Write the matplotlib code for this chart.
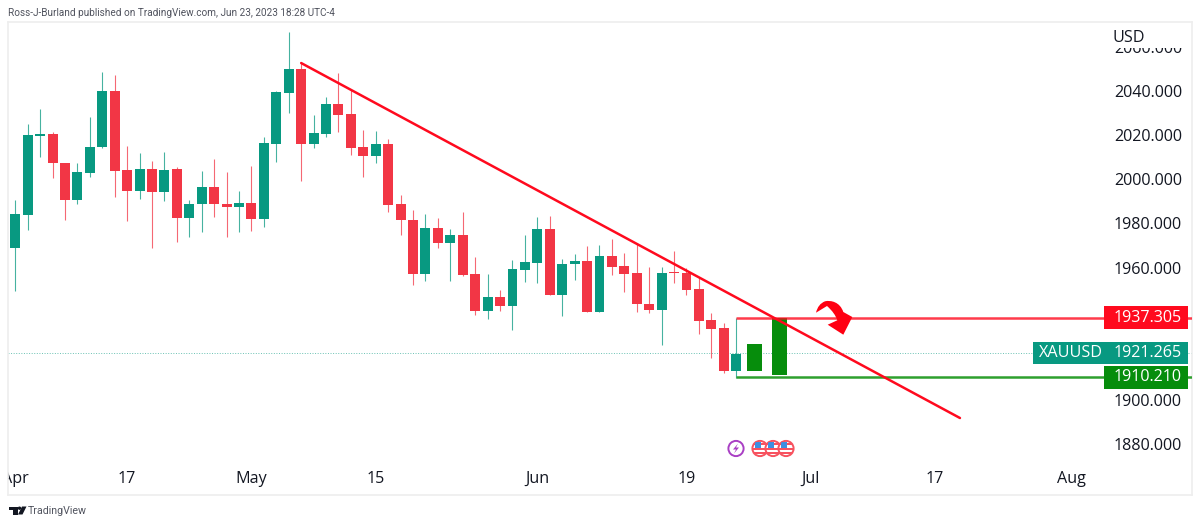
import matplotlib
matplotlib.use("Agg")
from matplotlib import pyplot as plt
from matplotlib.patches import Rectangle, Circle, PathPatch, Polygon
from matplotlib.path import Path
from matplotlib.transforms import Affine2D

plt.rcParams['font.family'] = ['Open Sans', 'DejaVu Sans']

# daily candles (index 0 = Apr 3)
opens = [1968.7, 1983.8, 2019.8, 2020.4, 2007.4, 1990.8, 2003.0, 2014.5, 2040.2, 2004.2,
         1994.5, 2004.7, 1994.2, 2004.5, 1982.3, 1988.6, 1996.6, 1988.8, 1987.4, 1989.1,
         1982.0, 2016.1, 2039.1, 2050.0, 2016.1, 2020.7, 2034.1, 2029.4, 2014.6, 2010.6,
         2016.1, 1988.6, 1981.7, 1957.1, 1977.8, 1971.3, 1974.7, 1957.1, 1940.3, 1946.8,
         1942.7, 1958.9, 1962.2, 1977.5, 1947.4, 1961.4, 1962.9, 1939.7, 1965.2, 1960.7,
         1957.4, 1943.5, 1940.9, 1957.7, 1957.4, 1950.3, 1936.1, 1932.4, 1913.2]
highs = [1990.5, 2024.9, 2031.9, 2021.3, 2007.4, 2007.2, 2028.2, 2048.6, 2047.3, 2015.1,
         2011.8, 2008.3, 2012.2, 2005.6, 1990.6, 2003.6, 2009.2, 2003.3, 1994.8, 2006.0,
         2019.2, 2040.2, 2066.6, 2053.0, 2029.1, 2037.3, 2048.0, 2040.5, 2022.5, 2021.9,
         2018.3, 1992.9, 1985.9, 1984.1, 1982.4, 1977.5, 1985.3, 1964.6, 1957.1, 1949.7,
         1963.4, 1974.7, 1982.9, 1983.2, 1964.0, 1966.0, 1969.9, 1970.2, 1972.9, 1966.6,
         1971.0, 1960.1, 1960.1, 1967.5, 1959.6, 1955.5, 1939.4, 1934.8, 1937.3]
lows = [1949.5, 1977.0, 2009.9, 2000.7, 1981.5, 1988.6, 2000.9, 2014.0, 1992.1, 1981.1,
        1991.1, 1969.0, 1990.3, 1971.6, 1973.8, 1975.9, 1983.1, 1973.8, 1975.9, 1976.7,
        1978.4, 2007.8, 2030.2, 1999.2, 2014.0, 2019.2, 2021.3, 2011.0, 2000.9, 2007.4,
        1985.3, 1974.9, 1952.1, 1954.0, 1968.7, 1954.0, 1956.3, 1938.6, 1936.8, 1940.3,
        1931.8, 1953.6, 1953.1, 1947.4, 1937.9, 1954.2, 1939.7, 1939.7, 1956.5, 1948.9,
        1940.0, 1939.5, 1924.9, 1953.1, 1947.7, 1929.9, 1919.0, 1912.3, 1910.1]
closes = [1984.1, 2020.1, 2020.4, 2007.2, 1990.8, 2003.1, 2014.6, 2040.2, 2003.9, 1994.5,
          2004.7, 1994.2, 2004.4, 1982.3, 1988.8, 1996.6, 1988.6, 1987.4, 1989.2, 1982.0,
          2016.4, 2039.4, 2050.0, 2016.1, 2021.0, 2034.1, 2029.1, 2014.3, 2010.6, 2016.1,
          1988.3, 1981.4, 1957.1, 1977.8, 1971.3, 1974.7, 1956.6, 1940.3, 1946.8, 1942.6,
          1959.2, 1962.4, 1977.5, 1947.4, 1961.4, 1963.1, 1939.7, 1965.1, 1960.4, 1957.1,
          1943.3, 1940.9, 1957.7, 1957.4, 1949.8, 1935.8, 1932.1, 1913.1, 1920.9]

# hand drawn forecast bars: x index, bottom, top
drawn_x = [59.5, 61.5]
drawn_low = [1913.2, 1911.4]
drawn_high = [1925.2, 1937.3]

trend_x = [23, 76]
trend_y = [2052.7, 1891.8]

level_start = 58
last_price = 1921.265
resistance = 1937.305
support = 1910.210

price_ticks = [1880, 1900, 1920, 1940, 1960, 1980, 2000, 2020, 2040, 2060]
date_pos = [0, 9, 19, 29, 42, 54, 64, 74, 85]
date_labels = ['Apr', '17', 'May', '15', 'Jun', '19', 'Jul', '17', 'Aug']

UP = '#089981'
DOWN = '#f23645'
RED = '#ff0a1e'
GREEN = '#068d0c'
TEXT = '#131722'

fig = plt.figure(figsize=(12, 5.25), dpi=100)
ax = fig.add_axes([8 / 1200, 30 / 525, 1184 / 1200, 473 / 525])
ax.set_xlim(-0.587, 94.67)
ax.set_ylim(1856.9, 2071.3)
ax.set_axisbelow(True)
for s in ax.spines.values():
    s.set_color('#eeeeee')
    s.set_linewidth(1.2)

# image pixels, y going down
px = Affine2D().scale(1, -1).translate(0, 525)

ax.yaxis.tick_right()
ax.set_yticks(price_ticks)
ax.set_yticklabels(['%.3f' % p for p in price_ticks], fontsize=11.6, color=TEXT)
ax.tick_params(axis='y', length=0, pad=-7.2)
for lab in ax.get_yticklabels():
    lab.set_ha('right')
ax.set_xticks(date_pos)
ax.set_xticklabels(date_labels, fontsize=11.6, color=TEXT)
ax.tick_params(axis='x', length=0, pad=-17.4)
for lab in ax.get_xticklabels():
    lab.set_clip_on(True)
    lab.set_clip_box(ax.bbox)

# last price line
ax.axhline(last_price, color=UP, lw=0.7, ls=':', alpha=0.6, zorder=1)

for i in range(len(opens)):
    col = UP if closes[i] >= opens[i] else DOWN
    ax.vlines(i, lows[i], highs[i], color=col, lw=0.8, alpha=0.75, zorder=2)
    h = abs(closes[i] - opens[i])
    ax.bar(i, max(h, 0.8), width=0.8, bottom=min(opens[i], closes[i]), color=col, zorder=3)

ax.bar(drawn_x, [t - b for t, b in zip(drawn_high, drawn_low)], width=1.2, bottom=drawn_low,
       color=GREEN, zorder=3)

# levels and trend line
ax.plot([level_start, 94.67], [resistance, resistance], color=RED, lw=1.8, alpha=0.8, zorder=4,
        solid_capstyle='butt')
ax.plot([level_start, 94.67], [support, support], color='#2ea02e', lw=1.8, zorder=4,
        solid_capstyle='butt')
ax.plot(trend_x, trend_y, color=RED, lw=1.8, zorder=5, solid_capstyle='round')

# cover for the clipped top label
ax.add_patch(Rectangle((1100, 23), 90, 25, transform=px, fc='white', ec='none', zorder=6))
fig.text(1112, 37.5, 'USD', transform=px, fontsize=11.6, color=TEXT, va='center', ha='left', zorder=7)

# price tags
ytrans = ax.get_yaxis_transform()
def frac(x):
    return (x - 8) / 1184
for price, left, col, name in [(last_price, 1033, UP, 'XAUUSD'),
                               (resistance, 1104, RED, None),
                               (support, 1104, GREEN, None)]:
    ax.add_patch(Rectangle((frac(left), price - 5.15), frac(1188) - frac(left), 10.3, transform=ytrans,
                           fc=col, ec='none', zorder=8))
    ax.text(frac(1182), price, '%.3f' % price, transform=ytrans, color='white', fontsize=11.6,
            ha='right', va='center', zorder=9)
    if name:
        ax.text(frac(1039), price, name, transform=ytrans, color='white', fontsize=11.6,
                ha='left', va='center', zorder=9)

# curved arrow
verts = [(816, 312.7), (818, 304), (825, 301.3), (831, 300), (840, 302), (843.3, 312),
         (852.3, 317), (843.3, 334.7), (827.7, 324.7), (837.3, 320.3),
         (835, 313), (827, 306), (816, 312.7), (816, 312.7)]
codes = [Path.MOVETO, Path.CURVE3, Path.CURVE3, Path.CURVE4, Path.CURVE4, Path.CURVE4,
         Path.LINETO, Path.LINETO, Path.LINETO, Path.LINETO,
         Path.CURVE3, Path.CURVE3, Path.LINETO, Path.CLOSEPOLY]
fig.add_artist(PathPatch(Path(verts, codes), transform=px, fc='#ff0012', ec='none', zorder=10))

# event icons
fig.add_artist(Circle((736, 448.5), 7.6, transform=px, fc='white', ec='#a93fc4', lw=1.4, zorder=10))
fig.add_artist(Polygon([(738, 443.5), (733, 449.5), (736, 449.5), (734, 453.5), (739, 447.5), (736, 447.5)],
                       transform=px, fc='#a93fc4', ec='none', zorder=11))
for cx in [760, 773, 786]:
    ring = Circle((cx, 448.5), 7.6, transform=px, fc='white', ec='#f7525f', lw=1.4, zorder=10)
    fig.add_artist(ring)
    for sy in [443, 447.5, 452]:
        r = Rectangle((cx - 7, sy), 14, 2.2, transform=px, fc='#f7525f', ec='none', zorder=11)
        fig.add_artist(r)
        r.set_clip_path(ring)
    c = Rectangle((cx - 5.5, 442), 6.5, 6, transform=px, fc='#3d8fe0', ec='none', zorder=12)
    fig.add_artist(c)
    c.set_clip_path(ring)

# header and footer
fig.text(8, 13, 'Ross-J-Burland published on TradingView.com, Jun 23, 2023 18:28 UTC-4', transform=px,
         fontsize=7.2, family=['Roboto', 'DejaVu Sans'], color='#50535e', va='center', ha='left')
fig.text(28, 510.5, 'TradingView', transform=px, fontsize=7.7, family=['Roboto', 'DejaVu Sans'],
         color='#50535e', va='center', ha='left')
fig.add_artist(Polygon([(9, 506.5), (17.5, 506.5), (17.5, 514.5), (13, 514.5), (13, 510), (9, 510)],
                       transform=px, fc=TEXT, ec='none'))
fig.add_artist(Circle((19.5, 508.2), 1.7, transform=px, fc=TEXT, ec='none'))
fig.add_artist(Polygon([(22, 506.5), (26.5, 506.5), (22.5, 514.5), (18, 514.5)], transform=px, fc=TEXT, ec='none'))

fig.savefig('out.png', dpi=100)
